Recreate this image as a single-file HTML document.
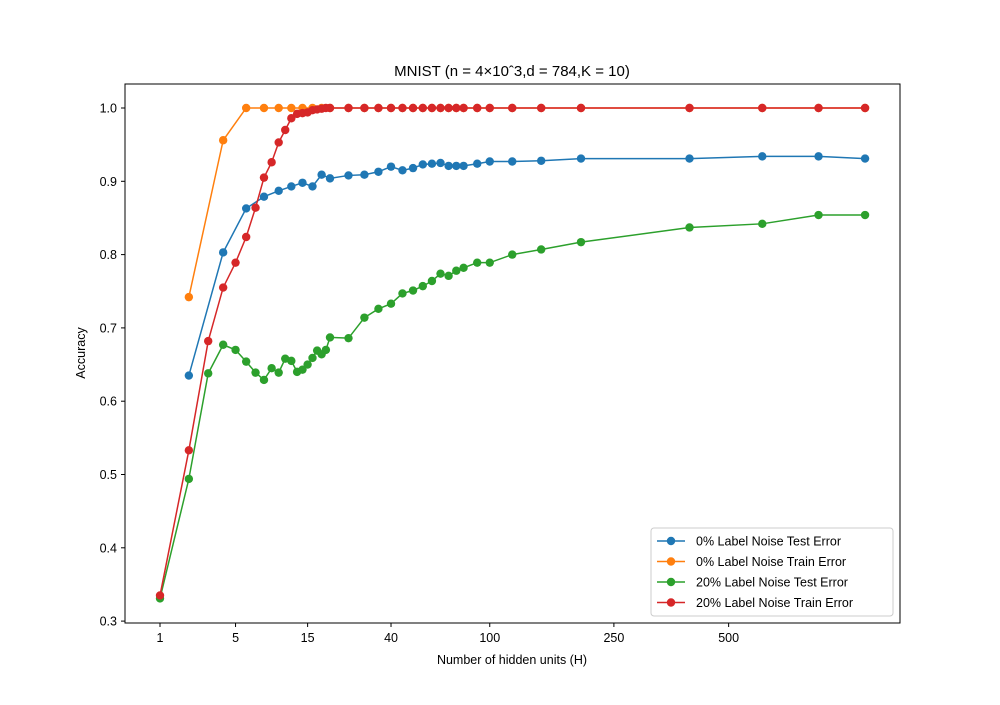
<!DOCTYPE html>
<html><head><meta charset="utf-8"><style>
body{margin:0;background:#fff}
svg text{font-family:"Liberation Sans","DejaVu Sans",sans-serif;fill:#000}
</style></head><body>
<svg id="chart" width="1000" height="700">
<text x="512" y="76" font-size="15" text-anchor="middle">MNIST (n = 4×10ˆ3,d = 784,K = 10)</text>
<rect x="125" y="84" width="775" height="539" fill="none" stroke="#000" stroke-width="1"/>
<g id="ticks"></g>
<g id="series"></g>
<text x="512" y="664" font-size="12.5" text-anchor="middle">Number of hidden units (H)</text>
<text x="85" y="353" font-size="12.5" text-anchor="middle" transform="rotate(-90 85 353)">Accuracy</text>
<g id="legend"></g>
</svg>
<script>
const H=[1,2,3,4,5,6,7,8,9,10,11,12,13,14,15,16,17,18,19,20,25,30,35,40,45,50,55,60,65,70,75,80,90,100,120,150,200,400,600,800,1000];
const blueTest=[null,0.635,null,0.803,null,0.863,null,0.879,null,0.887,null,0.893,null,0.898,null,0.893,null,0.909,null,0.904,0.908,0.909,0.913,0.920,0.915,0.918,0.923,0.924,0.925,0.921,0.921,0.921,0.924,0.927,0.927,0.928,0.931,0.931,0.934,0.934,0.931];
const orangeTrain=[null,0.742,null,0.956,null,1,null,1,null,1,null,1,null,1,null,1,null,1,null,1,1,1,1,1,1,1,1,1,1,1,1,1,1,1,1,1,1,1,1,1,1];
const greenTest=[0.331,0.494,0.638,0.677,0.670,0.654,0.639,0.629,0.645,0.639,0.658,0.655,0.640,0.643,0.650,0.659,0.669,0.664,0.670,0.687,0.686,0.714,0.726,0.733,0.747,0.751,0.757,0.764,0.774,0.771,0.778,0.782,0.789,0.789,0.800,0.807,0.817,0.837,0.842,0.854,0.854];
const redTrain=[0.335,0.533,0.682,0.755,0.789,0.824,0.864,0.905,0.926,0.953,0.970,0.986,0.992,0.993,0.994,0.997,0.998,0.999,1,1,1,1,1,1,1,1,1,1,1,1,1,1,1,1,1,1,1,1,1,1,1];
const xTicks=[1,5,15,40,100,250,500];
const yTicks=[0.3,0.4,0.5,0.6,0.7,0.8,0.9,1.0];
const seriesNames=["0% Label Noise Test Error","0% Label Noise Train Error","20% Label Noise Test Error","20% Label Noise Train Error"];
const colors=["#1f77b4","#ff7f0e","#2ca02c","#d62728"];
const NS="http://www.w3.org/2000/svg";
function xs(h){return 160+(Math.pow(h,0.25)-1)*152.5;}
function ys(v){return 108+(1.0-v)*733;}
function mk(tag,attrs,parent){const e=document.createElementNS(NS,tag);for(const k in attrs)e.setAttribute(k,attrs[k]);parent.appendChild(e);return e;}
const tg=document.getElementById('ticks');
xTicks.forEach(t=>{
  const l=mk('line',{x1:xs(t),x2:xs(t),y1:623,y2:627,stroke:'#000'},tg);
  
  
  const tx=mk('text',{x:xs(t),y:642,'font-size':12.5,'text-anchor':'middle'},tg);tx.textContent=t;
  
  
});
yTicks.forEach(t=>{
  const l=mk('line',{x1:121,x2:125,y1:ys(t),y2:ys(t),stroke:'#000'},tg);
  
  
  const tx=mk('text',{x:117,y:ys(t)+4.5,'font-size':12.5,'text-anchor':'end'},tg);tx.textContent=t.toFixed(1);
  
  
});
const sg=document.getElementById('series');
[blueTest,orangeTrain,greenTest,redTrain].forEach((arr,i)=>{
  const g=mk('g',{},sg);
  
  
  const pts=[];arr.forEach((v,j)=>{if(v!==null)pts.push([xs(H[j]),ys(v)]);});
  const pl=mk('polyline',{points:pts.map(p=>p.join(',')).join(' '),fill:'none',stroke:colors[i],'stroke-width':1.5},g);
  
  
  pts.forEach(p=>{const c=mk('circle',{cx:p[0],cy:p[1],r:4.2,fill:colors[i]},g);
    
    });
});
const lg=document.getElementById('legend');
const box=mk('rect',{x:651,y:528,width:242,height:88,rx:3,fill:'#fff',stroke:'#ccc'},lg);


seriesNames.forEach((n,i)=>{
  const y=541+i*20.5;
  const g=mk('g',{},lg);
  
  
  mk('line',{x1:657,x2:685,y1:y,y2:y,stroke:colors[i],'stroke-width':1.5},g);
  mk('circle',{cx:671,cy:y,r:4.2,fill:colors[i]},g);
  const t=mk('text',{x:696,y:y+4.5,'font-size':12.5},g);t.textContent=n;
});
</script>
</body></html>
